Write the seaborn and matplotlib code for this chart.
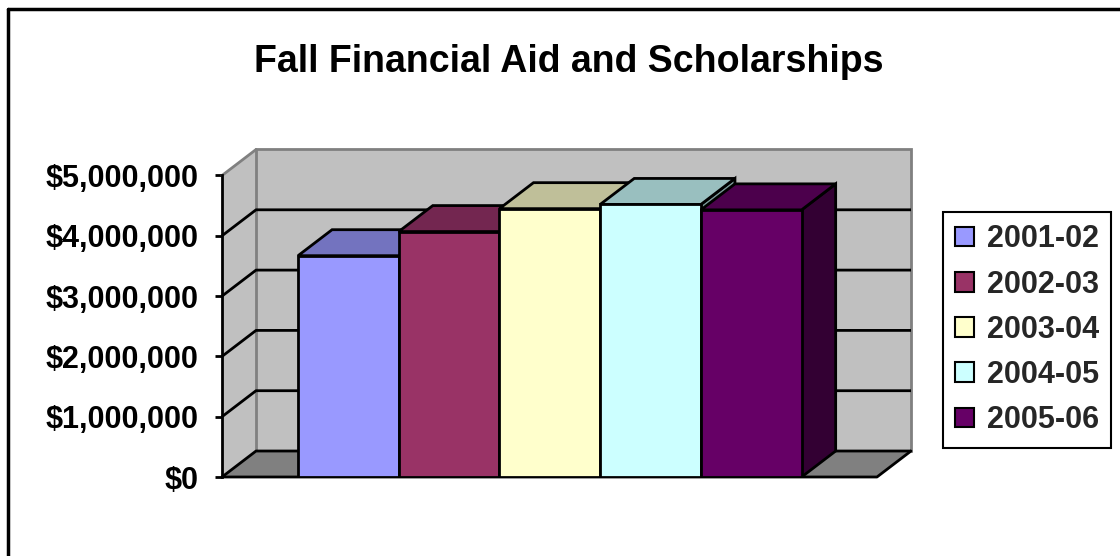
import matplotlib
matplotlib.use("Agg")
import matplotlib.pyplot as plt
import seaborn as sns
import pandas as pd
from matplotlib.patches import Polygon, Patch, Rectangle
from matplotlib.lines import Line2D
from matplotlib.ticker import FuncFormatter

# ---- data ----
years = ["2001-02", "2002-03", "2003-04", "2004-05", "2005-06"]
aid = [3670000, 4070000, 4450000, 4520000, 4430000]
front_colors = ["#9999FF", "#993366", "#FFFFCC", "#CCFFFF", "#660066"]
top_colors = ["#7373BF", "#732650", "#BFBF99", "#99BFBF", "#4C004C"]
side_colors = ["#5C5C99", "#5C1F3D", "#99997A", "#7A9999", "#330033"]
yticks = [0, 1000000, 2000000, 3000000, 4000000, 5000000]
title = "Fall Financial Aid and Scholarships"

sns.set_theme(style="white")
plt.rcParams['font.family'] = ['Liberation Sans', 'DejaVu Sans']
plt.rcParams['font.weight'] = 'bold'

W, H = 1120, 556
fig = plt.figure(figsize=(W / 100, H / 100), dpi=100)
fig.patch.set_facecolor("white")
ax = fig.add_axes([222 / W, 79 / H, 689 / W, 327.5 / H])
ax.set_facecolor("none")

df = pd.DataFrame({"year": years, "aid": aid})
sns.barplot(data=df, x="year", y="aid", hue="year",
            palette=dict(zip(years, front_colors)), width=1.0, legend=False,
            edgecolor="black", linewidth=2, saturation=1, errorbar=None, ax=ax)
bars = sorted([p for p in ax.patches if isinstance(p, Rectangle)], key=lambda r: r.get_x())

# 3-D geometry (data units)
XL, XR = -1.255, 5.248
DX, DY = 0.338, 431000
YMAX = yticks[-1]
ax.set_xlim(XL, XR + DX)
ax.set_ylim(0, YMAX + DY)

wall = "#C0C0C0"
edge_gray = "#808080"
# side wall
ax.add_patch(Polygon([(XL, 0), (XL, YMAX), (XL + DX, YMAX + DY), (XL + DX, DY)],
                     closed=True, facecolor=wall, edgecolor="none", zorder=0.5, clip_on=False))
# back wall
ax.add_patch(Rectangle((XL + DX, DY), XR - XL, YMAX, facecolor=wall,
                       edgecolor=edge_gray, linewidth=2, zorder=0.6, clip_on=False))
# top diagonal of side wall
ax.plot([XL, XL + DX], [YMAX, YMAX + DY], color=edge_gray, lw=2, zorder=0.7, clip_on=False)
# floor
ax.add_patch(Polygon([(XL, 0), (XR, 0), (XR + DX, DY), (XL + DX, DY)],
                     closed=True, facecolor=edge_gray, edgecolor="none", zorder=0.8, clip_on=False))
ax.plot([XL, XR, XR + DX], [0, 0, DY], color="black", lw=2, zorder=0.9, clip_on=False)
# gridlines
for v in yticks[:-1]:
    ax.plot([XL, XL + DX, XR + DX], [v, v + DY, v + DY], color="black", lw=2,
            zorder=1, clip_on=False, solid_capstyle="butt")

# 3-D faces of bars
for i, p in enumerate(bars):
    x0 = p.get_x()
    x1 = x0 + p.get_width()
    h = p.get_height()
    base = 3 + i
    ax.add_patch(Polygon([(x1, 0), (x1, h), (x1 + DX, h + DY), (x1 + DX, DY)], closed=True,
                         facecolor=side_colors[i], edgecolor="black", linewidth=2,
                         zorder=base, joinstyle="miter"))
    ax.add_patch(Polygon([(x0, h), (x1, h), (x1 + DX, h + DY), (x0 + DX, h + DY)], closed=True,
                         facecolor=top_colors[i], edgecolor="black", linewidth=2,
                         zorder=base + 0.1, joinstyle="miter"))
    p.set_zorder(base + 0.5)

# axes styling
for s in ["top", "right", "bottom"]:
    ax.spines[s].set_visible(False)
ax.spines["left"].set_bounds(0, YMAX)
ax.spines["left"].set_color("black")
ax.spines["left"].set_linewidth(2)
ax.spines["left"].set_zorder(2)
ax.set_yticks(yticks)
ax.yaxis.set_major_formatter(FuncFormatter(lambda v, pos: "${:,.0f}".format(v)))
ax.tick_params(axis="y", direction="out", length=5, width=2, colors="black",
               labelsize=22, pad=12, left=True)
for t in ax.get_yticklabels():
    t.set_fontweight("bold")
ax.set_xticks([])
ax.set_xlabel("")
ax.set_ylabel("")

# title
fig.text(569 / W, 1 - 62 / H, title, ha="center", va="center",
         fontsize=27, fontweight="bold", color="black")

# legend
handles = [Patch(facecolor=c, edgecolor="black", linewidth=1.5) for c in front_colors]
leg = fig.legend(handles, years, loc="upper left", bbox_to_anchor=(943 / W, 1 - 212 / H),
                 frameon=True, fancybox=False, framealpha=1, edgecolor="black",
                 prop={"size": 22, "weight": "bold"}, handlelength=0.62, handleheight=0.62,
                 handletextpad=0.42, labelspacing=0.5, borderpad=0.4, borderaxespad=0)
leg.get_frame().set_linewidth(1.5)

# outer border
fig.add_artist(Line2D([8 / W, 1], [1 - 9 / H, 1 - 9 / H], transform=fig.transFigure,
                      color="black", lw=2.5))
fig.add_artist(Line2D([8 / W, 8 / W], [0, 1 - 9 / H], transform=fig.transFigure,
                      color="black", lw=2.5))

fig.savefig("out.png", dpi=100)
